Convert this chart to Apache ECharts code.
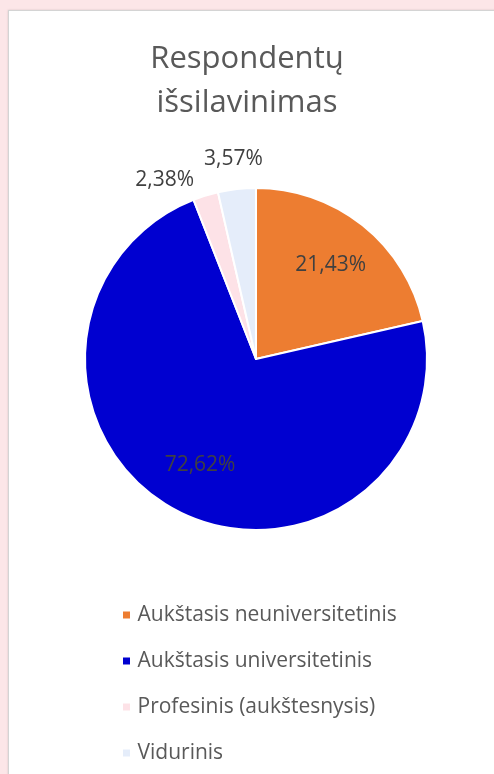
<!DOCTYPE html>
<html>
<head>
<meta charset="utf-8">
<script src="https://cdn.jsdelivr.net/npm/echarts@6/dist/echarts.min.js"></script>
<style>
  html, body { margin: 0; padding: 0; width: 494px; height: 774px; overflow: hidden; background: #fce6e8; }
  #panel { position: absolute; left: 8px; top: 10px; width: 500px; height: 800px; background: #ffffff;
           border: 1px solid #d4d4d4; box-shadow: 0 0 2px rgba(0,0,0,0.15); }
  #chart { position: absolute; left: 0; top: 0; width: 494px; height: 774px; }
</style>
</head>
<body>
<div id="panel"></div>
<div id="chart"></div>
<script>
// duomenys
var categories = ['Aukštasis neuniversitetinis', 'Aukštasis universitetinis', 'Profesinis (aukštesnysis)', 'Vidurinis'];
var values = [21.43, 72.62, 2.38, 3.57];
var colors = ['#ed7d31', '#0000d0', '#fde2e7', '#e5edfa'];

var cx = 256, cy = 359, R = 171;
var labelFont = '21px "Open Sans"';

function fmt(v) {
    return v.toFixed(2).replace('.', ',') + '%';
}

// vidurinis sektoriaus kampas (laipsniais nuo 12 val., pagal laikrodžio rodyklę)
var total = values.reduce(function (a, b) { return a + b; }, 0);
var midAngles = [];
var acc = 0;
values.forEach(function (v) {
    midAngles.push((acc + v / 2) / total * 360);
    acc += v;
});

// etikečių vietos: dideli sektoriai viduje, maži išorėje; išorinės nepersidengia
var ctx = document.createElement('canvas').getContext('2d');
ctx.font = labelFont;
var outR = R + 30;
var labelPos = values.map(function (v, i) {
    var a = midAngles[i] * Math.PI / 180;
    var inside = v > 10;
    var d = inside ? R * 0.7 : outR;
    return { x: cx + d * Math.sin(a), y: cy - d * Math.cos(a), w: ctx.measureText(fmt(v)).width, inside: inside };
});
for (var i = labelPos.length - 2; i >= 0; i--) {
    var p = labelPos[i], q = labelPos[i + 1];
    if (p.inside || q.inside) continue;
    var maxX = q.x - q.w / 2 - 10 - p.w / 2;
    if (p.x > maxX) {
        p.x = maxX;
        // lieka ant to paties apskritimo
        var dx = p.x - cx;
        p.y = cy - Math.sqrt(Math.max(outR * outR - dx * dx, 0));
    }
}

var chart = echarts.init(document.getElementById('chart'));

var option = {
    backgroundColor: 'transparent',
    title: {
        text: 'Respondentų\nišsilavinimas',
        left: 'center',
        top: 32,
        textStyle: {
            fontFamily: 'Open Sans',
            fontSize: 31,
            fontWeight: 'normal',
            lineHeight: 44,
            color: '#595959'
        }
    },
    legend: {
        orient: 'vertical',
        left: 121,
        top: 602,
        padding: 0,
        icon: 'path://M0,0h9v9h-9z',
        itemWidth: 12,
        itemHeight: 9,
        itemGap: 20,
        textStyle: {
            fontFamily: 'Open Sans',
            fontSize: 21,
            lineHeight: 26,
            color: '#595959'
        },
        data: categories
    },
    series: [
        {
            type: 'pie',
            center: [cx, cy],
            radius: R,
            startAngle: 90,
            clockwise: true,
            animation: false,
            itemStyle: {
                borderColor: '#ffffff',
                borderWidth: 2
            },
            label: {
                show: true,
                fontFamily: 'Open Sans',
                fontSize: 21,
                color: '#404040',
                formatter: function (p) {
                    return fmt(p.value);
                }
            },
            labelLine: { show: false },
            labelLayout: function (params) {
                var p = labelPos[params.dataIndex];
                return {
                    x: p.x,
                    y: p.y,
                    align: 'center',
                    verticalAlign: 'middle'
                };
            },
            data: categories.map(function (c, i) {
                return { name: c, value: values[i], itemStyle: { color: colors[i] } };
            })
        }
    ]
};

chart.setOption(option);
</script>
</body>
</html>
